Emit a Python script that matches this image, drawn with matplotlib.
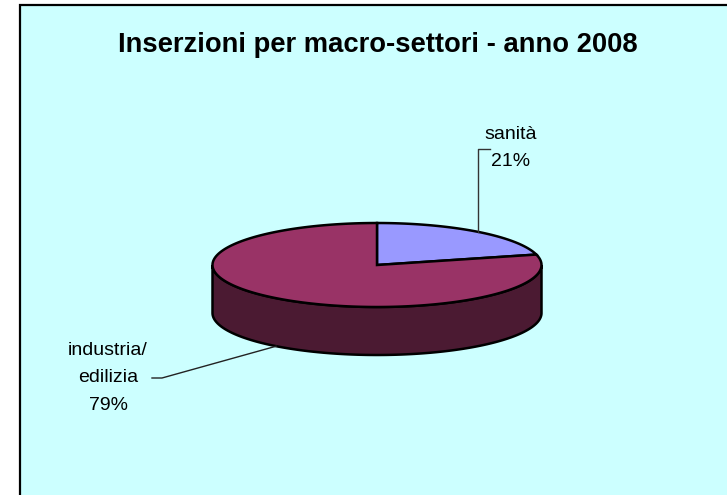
import numpy as np
import matplotlib
matplotlib.use("Agg")
import matplotlib.pyplot as plt
from matplotlib.patches import Polygon, Rectangle

plt.rcParams['font.family'] = ['Liberation Sans', 'DejaVu Sans']

title = "Inserzioni per macro-settori - anno 2008"
categories = ["sanità", "industria/\nedilizia"]
values = [21, 79]
colors_top = ["#9999FF", "#993366"]
colors_side = ["#4F4F80", "#4B1A32"]

W, H = 727, 495
fig = plt.figure(figsize=(W / 100, H / 100), dpi=100)
fig.patch.set_facecolor("white")
ax = fig.add_axes([0, 0, 1, 1])
ax.set_xlim(0, W)
ax.set_ylim(H, 0)
ax.axis("off")

# chart area frame
ax.add_patch(Rectangle((20, 5), 900, 700, facecolor="#CCFFFF", edgecolor="black",
                       linewidth=1.6, zorder=0))

ax.text(377.5, 45, title, ha="center", va="center", fontsize=19.7,
        fontweight="bold", color="black", zorder=5)

# 3D pie geometry
cx, cy, a, b, depth = 377, 265, 164.5, 42, 48

def pt(theta_deg, dy=0.0):
    t = np.deg2rad(theta_deg)
    return cx + a * np.cos(t), cy - b * np.sin(t) + dy

total = float(sum(values))
spans = []
start = 90.0
for v in values:
    sweep = v / total * 360.0
    spans.append((start - sweep, start))  # clockwise from start
    start -= sweep

# side walls (front visible part: math angles 180..360)
for (t0, t1), cs in zip(spans, colors_side):
    lo, hi = t0 % 360, (t0 % 360) + (t1 - t0)
    segs = []
    for shift in (-360, 0, 360):
        s0 = max(lo + shift, 180)
        s1 = min(hi + shift, 360)
        if s1 > s0:
            segs.append((s0, s1))
    for s0, s1 in segs:
        th = np.linspace(s0, s1, 200)
        top = [pt(t) for t in th]
        bot = [pt(t, depth) for t in th[::-1]]
        ax.add_patch(Polygon(top + bot, closed=True, facecolor=cs,
                             edgecolor="black", linewidth=1.8, zorder=2))

# top faces
for (t0, t1), ct in zip(spans, colors_top):
    th = np.linspace(t0, t1, 300)
    poly = [(cx, cy)] + [pt(t) for t in th]
    ax.add_patch(Polygon(poly, closed=True, facecolor=ct, edgecolor="black",
                         linewidth=1.8, joinstyle="miter", zorder=3))

# labels with leader lines
pct = [f"{round(v / total * 100)}%" for v in values]

# sanità
mid0 = (spans[0][0] + spans[0][1]) / 2
x0, y0 = pt(mid0)
ax.plot([x0, x0, x0 + 12], [y0, 149, 149], color="#333333", lw=1.0, zorder=4)
ax.text(511, 148, f"{categories[0]}\n{pct[0]}", ha="center", va="center",
        fontsize=14, linespacing=1.8, color="black", zorder=5)

# industria/edilizia
mid1 = (spans[1][0] + spans[1][1]) / 2
x1, y1 = pt(mid1, depth)
ax.plot([x1, 162, 152], [y1, 378, 378], color="#222222", lw=1.0, zorder=4)
ax.text(108, 378, f"{categories[1]}\n{pct[1]}", ha="center", va="center",
        fontsize=14, linespacing=1.8, color="black", zorder=5)

fig.savefig("out.png", dpi=100, facecolor="white")
